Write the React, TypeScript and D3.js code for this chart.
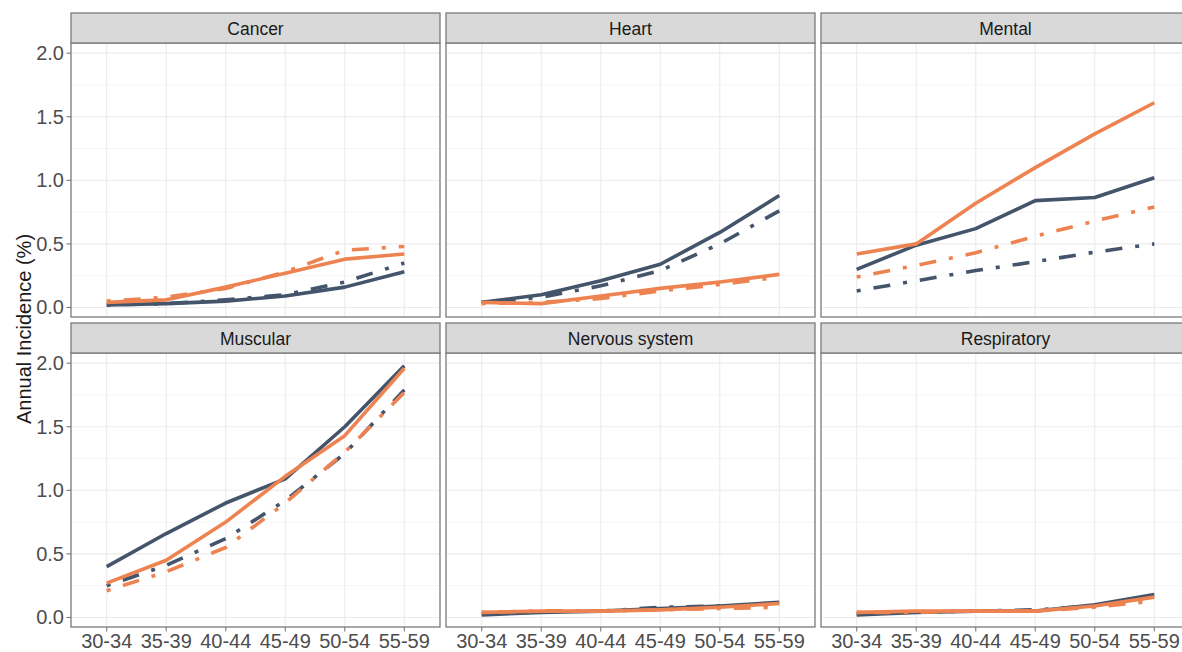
import React from "react";
import * as d3 from "d3";

// age groups on the x axis
const ages = ["30-34", "35-39", "40-44", "45-49", "50-54", "55-59"];
const panels = ["Cancer", "Heart", "Mental", "Muscular", "Nervous system", "Respiratory"];
const yTicks = [0, 0.5, 1.0, 1.5, 2.0];
const yMinor = [0.25, 0.75, 1.25, 1.75];

// one row per panel, same order as `panels`
const darkSolid = [
  [0.02, 0.03, 0.05, 0.09, 0.16, 0.28],
  [0.04, 0.1, 0.21, 0.34, 0.59, 0.88],
  [0.3, 0.49, 0.62, 0.84, 0.865, 1.02],
  [0.4, 0.66, 0.9, 1.09, 1.5, 1.98],
  [0.02, 0.04, 0.05, 0.07, 0.09, 0.12],
  [0.02, 0.04, 0.05, 0.05, 0.1, 0.18],
];
const darkDash = [
  [0.02, 0.03, 0.06, 0.1, 0.2, 0.35],
  [0.04, 0.08, 0.17, 0.29, 0.5, 0.76],
  [0.13, 0.21, 0.29, 0.36, 0.435, 0.5],
  [0.25, 0.41, 0.62, 0.92, 1.29, 1.79],
  [0.03, 0.05, 0.05, 0.08, 0.09, 0.1],
  [0.03, 0.04, 0.05, 0.06, 0.09, 0.15],
];
const orangeSolid = [
  [0.04, 0.06, 0.16, 0.27, 0.38, 0.42],
  [0.04, 0.03, 0.09, 0.15, 0.2, 0.26],
  [0.42, 0.5, 0.82, 1.1, 1.365, 1.61],
  [0.27, 0.45, 0.75, 1.11, 1.43, 1.96],
  [0.04, 0.05, 0.05, 0.06, 0.08, 0.11],
  [0.04, 0.05, 0.05, 0.05, 0.09, 0.16],
];
const orangeDash = [
  [0.05, 0.08, 0.15, 0.28, 0.45, 0.48],
  [0.03, 0.04, 0.07, 0.13, 0.18, 0.24],
  [0.24, 0.33, 0.43, 0.56, 0.68, 0.79],
  [0.21, 0.36, 0.55, 0.9, 1.3, 1.77],
  [0.04, 0.05, 0.05, 0.06, 0.07, 0.08],
  [0.04, 0.04, 0.05, 0.05, 0.08, 0.13],
];

const DARK = "#44546A";
const ORANGE = "#EE8352";
const DOTDASH = "4 13 17 13";

const W = 1182;
const H = 652;
const colLeft = [71, 446, 821];
const rowTop = [13, 323];
const panelW = 369;
const stripH = 30;
const panelH = 274;
const font = "'Liberation Sans', Arial, sans-serif";

export default function App() {
  const series = [
    { data: darkDash, color: DARK, dash: DOTDASH },
    { data: darkSolid, color: DARK, dash: null },
    { data: orangeDash, color: ORANGE, dash: DOTDASH },
    { data: orangeSolid, color: ORANGE, dash: null },
  ];

  return (
    <svg width={W} height={H} style={{ position: "absolute", left: 0, top: 0, background: "#fff" }} fontFamily={font}>
      <rect width={W} height={H} fill="#fff" />
      {panels.map((name, i) => {
        const col = i % 3;
        const row = Math.floor(i / 3);
        const x0 = colLeft[col];
        const top = rowTop[row] + stripH;
        const bottom = top + panelH;
        const x = d3.scalePoint<string>().domain(ages).range([x0, x0 + panelW]).padding(0.6);
        const y = d3.scaleLinear().domain([-0.075, 2.08]).range([bottom, top]);
        const line = d3
          .line<number>()
          .x((_, j) => x(ages[j]) as number)
          .y((d) => y(d));

        return (
          <g key={name}>
            {/* grid */}
            {yMinor.map((t) => (
              <line key={"m" + t} x1={x0} x2={x0 + panelW} y1={y(t)} y2={y(t)} stroke="#F4F4F4" strokeWidth={0.8} />
            ))}
            {yTicks.map((t) => (
              <line key={"g" + t} x1={x0} x2={x0 + panelW} y1={y(t)} y2={y(t)} stroke="#EBEBEB" strokeWidth={1.1} />
            ))}
            {ages.map((a) => (
              <line key={a} x1={x(a)} x2={x(a)} y1={top} y2={bottom} stroke="#EBEBEB" strokeWidth={1.1} />
            ))}

            {/* series */}
            {series.map((s, k) => (
              <path
                key={k}
                d={line(s.data[i]) || ""}
                fill="none"
                stroke={s.color}
                strokeWidth={3.6}
                strokeDasharray={s.dash || undefined}
                strokeLinecap="butt"
                strokeLinejoin="round"
              />
            ))}

            {/* border */}
            <rect x={x0} y={top} width={panelW} height={panelH} fill="none" stroke="#7A7A7A" strokeWidth={1.3} />

            {/* strip */}
            <rect x={x0} y={rowTop[row]} width={panelW} height={stripH} fill="#D9D9D9" stroke="#7A7A7A" strokeWidth={1.3} />
            <text x={x0 + panelW / 2} y={rowTop[row] + 22} textAnchor="middle" fontSize={17.5} fill="#1A1A1A">
              {name}
            </text>

            {/* y axis on first column */}
            {col === 0 &&
              yTicks.map((t) => (
                <g key={"yt" + t}>
                  <line x1={x0 - 4.5} x2={x0} y1={y(t)} y2={y(t)} stroke="#7A7A7A" strokeWidth={1.1} />
                  <text x={x0 - 7} y={y(t) + 7} textAnchor="end" fontSize={20} fill="#4D4D4D">
                    {d3.format(".1f")(t)}
                  </text>
                </g>
              ))}

            {/* x axis on bottom row */}
            {row === 1 &&
              ages.map((a) => (
                <g key={"xt" + a}>
                  <line x1={x(a)} x2={x(a)} y1={bottom} y2={bottom + 4.5} stroke="#7A7A7A" strokeWidth={1.1} />
                  <text x={x(a)} y={bottom + 21} textAnchor="middle" fontSize={20} fill="#4D4D4D">
                    {a}
                  </text>
                </g>
              ))}
          </g>
        );
      })}
      <text
        transform={`translate(31, 329) rotate(-90)`}
        textAnchor="middle"
        fontSize={20}
        fill="#1A1A1A"
      >
        Annual Incidence (%)
      </text>
    </svg>
  );
}
